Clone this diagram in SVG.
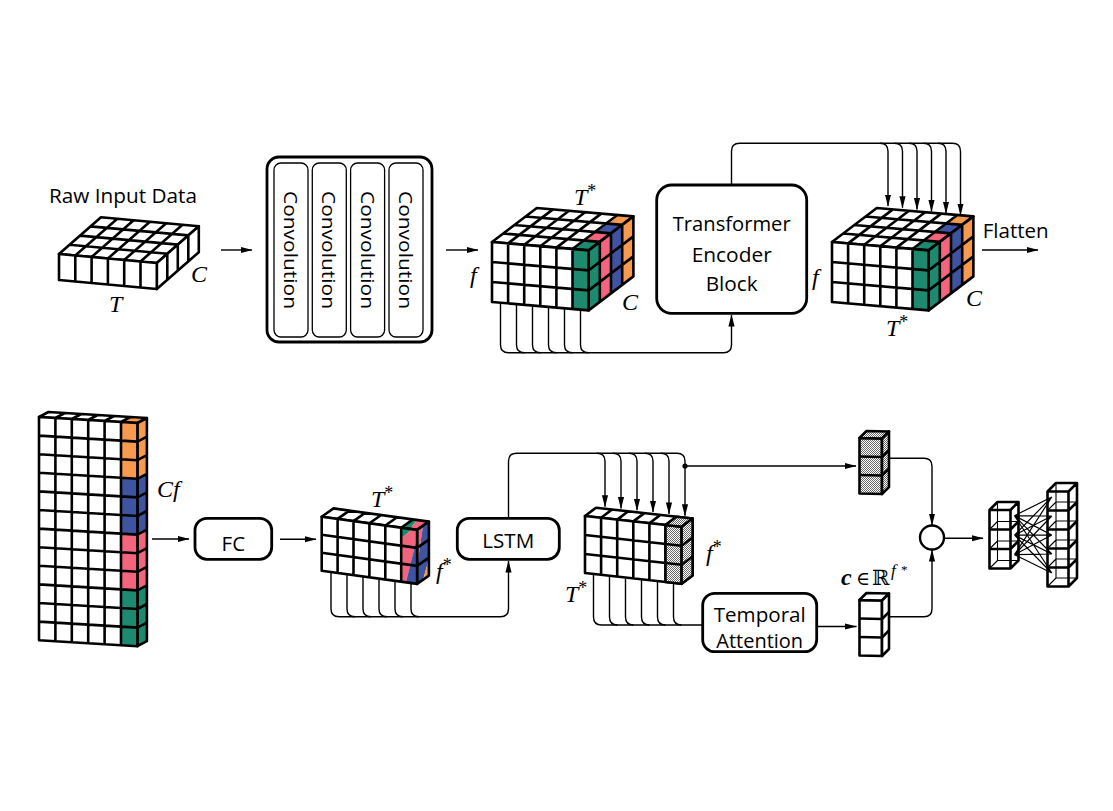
<svg xmlns="http://www.w3.org/2000/svg" width="1113" height="811" viewBox="0 0 1113 811">
<style>
.w{fill:#fff;stroke:none}
.k{fill:none;stroke:#000;stroke-width:2.6;vector-effect:non-scaling-stroke;stroke-linejoin:round}
.n{stroke:none}
.or{fill:#F7994F}.bl{fill:#3E54A0}.pk{fill:#F2657C}.gr{fill:#1D8A70}
.ck{fill:url(#chk);stroke:#000;stroke-width:2.6;stroke-linejoin:round}
.tw{fill:#fff;stroke:#000;stroke-width:2.6;stroke-linejoin:round}
.tk{fill:none;stroke:#000;stroke-width:2.6;stroke-linejoin:round}
.th{fill:none;stroke:#000;stroke-width:1.1}
.box{fill:#fff;stroke:#000;stroke-width:2.8}
.ib{fill:#fff;stroke:#000;stroke-width:1.3}
.c{fill:none;stroke:#000;stroke-width:1.4}
.a{marker-end:url(#ah)}
.s{font-family:"Open Sans","Liberation Sans",sans-serif;font-size:20px;fill:#000}
.m{font-family:"Liberation Serif","DejaVu Serif",serif;font-style:italic;font-size:24px;fill:#000}
.sup{font-size:18px;font-style:normal}
</style>
<defs>
<marker id="ah" viewBox="0 0 12 8" refX="11.5" refY="4" markerWidth="12" markerHeight="8" markerUnits="userSpaceOnUse" orient="auto"><path d="M0 0.9L12 4L0 7.1Z" fill="#000"/></marker>
<pattern id="chk" width="2" height="2" patternUnits="userSpaceOnUse"><rect width="2" height="2" fill="#fff"/><rect width="1" height="1" fill="#6a6a6a"/><rect x="1" y="1" width="1" height="1" fill="#6a6a6a"/></pattern>
<g id="tA">
<g transform="matrix(16.1 1.4 11.2 -8.5 492 242)">
<rect class="w" width="6" height="4"/>
<rect class="n gr" x="5" y="0" width="1" height="1"/><rect class="n pk" x="5" y="1" width="1" height="1"/><rect class="n bl" x="5" y="2" width="1" height="1"/><rect class="n or" x="5" y="3" width="1" height="1"/>
<path class="k" d="M0 0H6V4H0ZM1 0V4M2 0V4M3 0V4M4 0V4M5 0V4M0 1H6M0 2H6M0 3H6"/>
</g>
<g transform="matrix(11.2 -8.5 0 20 588.6 250.4)">
<rect class="w" width="4" height="3"/>
<rect class="n gr" x="0" width="1" height="3"/><rect class="n pk" x="1" width="1" height="3"/><rect class="n bl" x="2" width="1" height="3"/><rect class="n or" x="3" width="1" height="3"/>
<path class="k" d="M0 0H4V3H0ZM1 0V3M2 0V3M3 0V3M0 1H4M0 2H4"/>
</g>
<g transform="matrix(16.1 1.4 0 20 492 242)">
<rect class="w" width="6" height="3"/>
<rect class="n gr" x="5" width="1" height="3"/>
<path class="k" d="M0 0H6V3H0ZM1 0V3M2 0V3M3 0V3M4 0V3M5 0V3M0 1H6M0 2H6"/>
</g>
</g>
</defs>
<rect width="1113" height="811" fill="#fff"/>

<g id="raw-input">
<text class="s" x="49" y="203" style="font-size:20.5px" textLength="148" lengthAdjust="spacingAndGlyphs">Raw Input Data</text>
<g transform="matrix(16.3 1.5 10.5 -9.2 59 254)">
<rect class="w" width="6" height="4"/>
<path class="k" d="M0 0H6V4H0ZM1 0V4M2 0V4M3 0V4M4 0V4M5 0V4M0 1H6M0 2H6M0 3H6"/>
</g>
<g transform="matrix(10.5 -9.2 0 26 156.8 263)">
<rect class="w" width="4" height="1"/>
<path class="k" d="M0 0H4V1H0ZM1 0V1M2 0V1M3 0V1"/>
</g>
<g transform="matrix(16.3 1.5 0 26 59 254)">
<rect class="w" width="6" height="1"/>
<path class="k" d="M0 0H6V1H0ZM1 0V1M2 0V1M3 0V1M4 0V1M5 0V1"/>
</g>
<text class="m" x="191" y="282">C</text>
<text class="m" x="109" y="312">T</text>
</g>

<g id="convolutions">
<rect class="box" x="267" y="157" width="165" height="185" rx="12"/>
<rect class="ib" x="274" y="163" width="34" height="174" rx="7"/>
<rect class="ib" x="312.3" y="163" width="34" height="174" rx="7"/>
<rect class="ib" x="350.6" y="163" width="34" height="174" rx="7"/>
<rect class="ib" x="389" y="163" width="34" height="174" rx="7"/>
<text class="s" style="font-size:19px" transform="translate(291,250) rotate(90)" text-anchor="middle" dy="0.36em" textLength="118" lengthAdjust="spacingAndGlyphs">Convolution</text>
<text class="s" style="font-size:19px" transform="translate(329.3,250) rotate(90)" text-anchor="middle" dy="0.36em" textLength="118" lengthAdjust="spacingAndGlyphs">Convolution</text>
<text class="s" style="font-size:19px" transform="translate(367.6,250) rotate(90)" text-anchor="middle" dy="0.36em" textLength="118" lengthAdjust="spacingAndGlyphs">Convolution</text>
<text class="s" style="font-size:19px" transform="translate(406,250) rotate(90)" text-anchor="middle" dy="0.36em" textLength="118" lengthAdjust="spacingAndGlyphs">Convolution</text>
</g>

<g id="conv-features">
<use href="#tA"/>
<text class="m" x="574" y="205">T<tspan class="sup" dy="-8">*</tspan></text>
<text class="m" x="470" y="283">f</text>
<text class="m" x="622" y="310">C</text>
</g>

<g id="transformer">
<rect class="box" x="656.7" y="185" width="150" height="128.3" rx="15"/>
<text class="s" x="731.7" y="230.5" text-anchor="middle" textLength="118" lengthAdjust="spacingAndGlyphs">Transformer</text>
<text class="s" x="731.7" y="261.5" text-anchor="middle" textLength="80" lengthAdjust="spacingAndGlyphs">Encoder</text>
<text class="s" x="731.7" y="290.5" text-anchor="middle" textLength="52" lengthAdjust="spacingAndGlyphs">Block</text>
</g>

<g id="transformer-features">
<use href="#tA" transform="translate(340,0)"/>
<text class="m" x="812" y="285">f</text>
<text class="m" x="886" y="336">T<tspan class="sup" dy="-8">*</tspan></text>
<text class="m" x="966" y="306">C</text>
</g>

<g id="flatten">
<text class="s" x="982.7" y="238" style="font-size:19.5px" textLength="66" lengthAdjust="spacingAndGlyphs">Flatten</text>
</g>

<g id="flattened">
<g transform="matrix(16.4 1 9.5 -5 39 417)">
<rect class="w" width="6" height="1"/>
<rect class="n or" x="5" width="1" height="1"/>
<path class="k" d="M0 0H6V1H0ZM1 0V1M2 0V1M3 0V1M4 0V1M5 0V1"/>
</g>
<g transform="matrix(9.5 -5 0 18.6 137.4 423)">
<rect class="w" width="1" height="12"/>
<rect class="n or" y="0" width="1" height="3"/><rect class="n bl" y="3" width="1" height="3"/><rect class="n pk" y="6" width="1" height="3"/><rect class="n gr" y="9" width="1" height="3"/>
<path class="k" d="M0 0H1V12H0ZM0 1H1M0 2H1M0 3H1M0 4H1M0 5H1M0 6H1M0 7H1M0 8H1M0 9H1M0 10H1M0 11H1"/>
</g>
<g transform="matrix(16.4 1 0 18.6 39 417)">
<rect class="w" width="6" height="12"/>
<rect class="n or" x="5" y="0" width="1" height="3"/><rect class="n bl" x="5" y="3" width="1" height="3"/><rect class="n pk" x="5" y="6" width="1" height="3"/><rect class="n gr" x="5" y="9" width="1" height="3"/>
<path class="k" d="M0 0H6V12H0ZM1 0V12M2 0V12M3 0V12M4 0V12M5 0V12M0 1H6M0 2H6M0 3H6M0 4H6M0 5H6M0 6H6M0 7H6M0 8H6M0 9H6M0 10H6M0 11H6"/>
</g>
<text class="m" x="157" y="497">Cf</text>
</g>

<g id="fc">
<rect class="box" x="195" y="518.3" width="76.7" height="41" rx="12"/>
<text class="s" x="233.3" y="550.7" text-anchor="middle" textLength="23.5" lengthAdjust="spacingAndGlyphs">FC</text>
</g>

<g id="fc-features">
<g transform="matrix(15.9 2.2 11.8 -8.3 321.7 516.7)">
<rect class="w" width="6" height="1"/>
<polygon class="n gr" points="5,0 5.55,0 5.25,1 5,1"/><polygon class="n pk" points="5.55,0 6,0 6,1 5.25,1"/>
<path class="k" d="M0 0H6V1H0ZM1 0V1M2 0V1M3 0V1M4 0V1M5 0V1"/>
</g>
<g transform="matrix(11.8 -8.3 0 18 417.1 529.9)">
<rect class="w" width="1" height="3"/>
<polygon class="n pk" points="0,0 0.5,0 0,2"/><polygon class="n bl" points="0.5,0 1,0 1,2.1 0.5,3 0,3 0,2"/><polygon class="n or" points="1,2.1 1,3 0.5,3"/>
<path class="k" d="M0 0H1V3H0ZM0 1H1M0 2H1"/>
</g>
<g transform="matrix(15.9 2.2 0 18 321.7 516.7)">
<rect class="w" width="6" height="3"/>
<polygon class="n gr" points="5,0 5.7,0 5,0.6"/><polygon class="n pk" points="5.7,0 6,0 6,0.4 5.3,3 5,3 5,0.6"/><polygon class="n bl" points="6,0.4 6,3 5.3,3"/>
<path class="k" d="M0 0H6V3H0ZM1 0V3M2 0V3M3 0V3M4 0V3M5 0V3M0 1H6M0 2H6"/>
</g>
<text class="m" x="371" y="507">T<tspan class="sup" dy="-8">*</tspan></text>
<text class="m" x="436" y="579">f<tspan class="sup" dy="-8">*</tspan></text>
</g>

<g id="lstm">
<rect class="box" x="457.3" y="518.3" width="102" height="41" rx="12"/>
<text class="s" x="508.3" y="548.3" text-anchor="middle" textLength="52" lengthAdjust="spacingAndGlyphs">LSTM</text>
</g>

<g id="lstm-features">
<g transform="matrix(16.1 1.8 11 -8.3 585 516)">
<rect class="w" width="6" height="1"/>
<path class="k" d="M0 0H6V1H0ZM1 0V1M2 0V1M3 0V1M4 0V1M5 0V1"/>
</g>
<g transform="matrix(11 -8.3 0 19 681.6 526.8)">
<rect class="w" width="1" height="3"/>
<path class="k" d="M0 0H1V3H0ZM0 1H1M0 2H1"/>
</g>
<g transform="matrix(16.1 1.8 0 19 585 516)">
<rect class="w" width="6" height="3"/>
<path class="k" d="M0 0H6V3H0ZM1 0V3M2 0V3M3 0V3M4 0V3M5 0V3M0 1H6M0 2H6"/>
</g>
<polygon class="ck" points="665.5,525 681.6,526.8 681.6,583.8 665.5,582"/>
<polygon class="ck" points="665.5,525 681.6,526.8 692.6,518.5 676.5,516.7"/>
<polygon class="ck" points="681.6,526.8 692.6,518.5 692.6,575.5 681.6,583.8"/>
<path class="tk" d="M665.5 544L681.6 545.8M665.5 563L681.6 564.8M681.6 545.8L692.6 537.5M681.6 564.8L692.6 556.5"/>
<text class="m" x="706" y="561">f<tspan class="sup" dy="-8">*</tspan></text>
<text class="m" x="565" y="602">T<tspan class="sup" dy="-8">*</tspan></text>
</g>

<g id="temporal-attention">
<rect class="box" x="702.7" y="593.3" width="114" height="58.4" rx="12"/>
<text class="s" x="759.7" y="621.7" text-anchor="middle" textLength="92" lengthAdjust="spacingAndGlyphs">Temporal</text>
<text class="s" x="759.7" y="648" text-anchor="middle" textLength="86.7" lengthAdjust="spacingAndGlyphs">Attention</text>
</g>

<g id="last-hidden">
<polygon class="ck" points="859.5,438 882,438.5 882,494 859.5,493.5"/>
<polygon class="ck" points="859.5,438 882,438.5 889,431.5 866.5,431"/>
<polygon class="ck" points="882,438.5 889,431.5 889,487 882,494"/>
<path class="tk" d="M859.5 456.5L882 457M859.5 475L882 475.5M882 457L889 450M882 475.5L889 468.5"/>
</g>

<g id="context">
<polygon class="tw" points="859.5,600 882,600.5 882,656 859.5,655.5"/>
<polygon class="tw" points="859.5,600 882,600.5 889,593.5 866.5,593"/>
<polygon class="tw" points="882,600.5 889,593.5 889,649 882,656"/>
<path class="tk" d="M859.5 618.5L882 619M859.5 637L882 637.5M882 619L889 612M882 637.5L889 630.5"/>
<text class="m" x="841" y="585"><tspan font-weight="bold">c</tspan><tspan x="856" font-style="normal" font-family="DejaVu Serif, serif" font-size="19">∈</tspan><tspan x="872" font-style="normal" font-family="DejaVu Serif, serif" font-size="21">ℝ</tspan><tspan x="891" dy="-9" font-size="17">f</tspan><tspan x="901" dy="-2" font-size="13" font-style="normal">*</tspan></text>
</g>

<g id="combine">
<circle cx="932" cy="537.5" r="12" fill="#fff" stroke="#000" stroke-width="2.4"/>
</g>

<g id="classifier">
<path class="th" d="M997.5 502V560.5H1018.5M989.5 568.5L997.5 560.5M997.5 521.5H1018.5M997.5 541H1018.5M989.5 529.5L997.5 521.5M989.5 549L997.5 541"/>
<path class="th" d="M1056 483V578H1077M1047.5 586.5L1056 578M1056 502H1077M1056 521H1077M1056 540H1077M1056 559H1077M1047.5 510.5L1056 502M1047.5 529.5L1056 521M1047.5 548.5L1056 540M1047.5 567.5L1056 559"/>
<path fill="none" stroke="#000" stroke-width="1.2" d="M1014.5 515.7L1051.8 497M1014.5 515.7L1051.8 516M1014.5 515.7L1051.8 535M1014.5 515.7L1051.8 554M1014.5 515.7L1051.8 573M1014.5 535.2L1051.8 497M1014.5 535.2L1051.8 516M1014.5 535.2L1051.8 535M1014.5 535.2L1051.8 554M1014.5 535.2L1051.8 573M1014.5 554.7L1051.8 497M1014.5 554.7L1051.8 516M1014.5 554.7L1051.8 535M1014.5 554.7L1051.8 554M1014.5 554.7L1051.8 573"/>
<path class="tk" d="M989.5 510H1010.5V568.5H989.5ZM989.5 529.5H1010.5M989.5 549H1010.5M989.5 510L997.5 502H1018.5L1010.5 510M1018.5 502V560.5L1010.5 568.5M1010.5 529.5L1018.5 521.5M1010.5 549L1018.5 541"/>
<path class="tk" d="M1047.5 491.5H1068.5V586.5H1047.5ZM1047.5 510.5H1068.5M1047.5 529.5H1068.5M1047.5 548.5H1068.5M1047.5 567.5H1068.5M1047.5 491.5L1056 483H1077L1068.5 491.5M1077 483V578L1068.5 586.5M1068.5 510.5L1077 502M1068.5 529.5L1077 521M1068.5 548.5L1077 540M1068.5 567.5L1077 559"/>
</g>

<g id="connectors">
<path class="c a" d="M221 250H252"/>
<path class="c a" d="M446 250H478"/>
<path class="c a" d="M500.5 303V344.7Q500.5 352.7 508.5 352.7H723.5Q731.5 352.7 731.5 344.7V315"/>
<path class="c" d="M516.5 305V344.7Q516.5 352.7 524.5 352.7M532.5 306V344.7Q532.5 352.7 540.5 352.7M548.5 308V344.7Q548.5 352.7 556.5 352.7M564.5 309V344.7Q564.5 352.7 572.5 352.7M580.5 311V344.7Q580.5 352.7 588.5 352.7"/>
<path class="c a" d="M731.5 185V151.3Q731.5 143.3 739.5 143.3H952.5Q960.5 143.3 960.5 151.3V215"/>
<path class="c a" d="M880 143.3Q888 143.3 888 151.3V206"/>
<path class="c a" d="M894.5 143.3Q902.5 143.3 902.5 151.3V207.8"/>
<path class="c a" d="M909 143.3Q917 143.3 917 151.3V209.6"/>
<path class="c a" d="M923.5 143.3Q931.5 143.3 931.5 151.3V211.4"/>
<path class="c a" d="M938 143.3Q946 143.3 946 151.3V213.2"/>
<path class="c a" d="M982 250H1038"/>
<path class="c a" d="M152 539H189"/>
<path class="c a" d="M280 539.3H316"/>
<path class="c a" d="M331 573V608.7Q331 616.7 339 616.7H500.5Q508.5 616.7 508.5 608.7V561"/>
<path class="c" d="M347 575V608.7Q347 616.7 355 616.7M363 577V608.7Q363 616.7 371 616.7M379 580V608.7Q379 616.7 387 616.7M395 582V608.7Q395 616.7 403 616.7M411 584V608.7Q411 616.7 419 616.7"/>
<path class="c a" d="M508.5 518.3V461.3Q508.5 453.3 516.5 453.3H677Q685 453.3 685 461.3V515.7"/>
<path class="c a" d="M597 453.3Q605 453.3 605 461.3V506.7"/>
<path class="c a" d="M613 453.3Q621 453.3 621 461.3V508.5"/>
<path class="c a" d="M629 453.3Q637 453.3 637 461.3V510.3"/>
<path class="c a" d="M645 453.3Q653 453.3 653 461.3V512.1"/>
<path class="c a" d="M661 453.3Q669 453.3 669 461.3V513.9"/>
<circle cx="685" cy="466" r="2.6" fill="#000"/>
<path class="c a" d="M685 466H856"/>
<path class="c" d="M593.5 575V617Q593.5 625 601.5 625H702.7"/>
<path class="c" d="M609.5 577V617Q609.5 625 617.5 625M625.5 579V617Q625.5 625 633.5 625M641.5 580V617Q641.5 625 649.5 625M657.5 582V617Q657.5 625 665.5 625M673.5 584V617Q673.5 625 681.5 625"/>
<path class="c a" d="M816.7 626.5H856.5"/>
<path class="c a" d="M889 458.3H924Q932 458.3 932 466.3V525"/>
<path class="c a" d="M889 616.7H924Q932 616.7 932 608.7V550"/>
<path class="c a" d="M944 538.3H983"/>
</g>
</svg>
